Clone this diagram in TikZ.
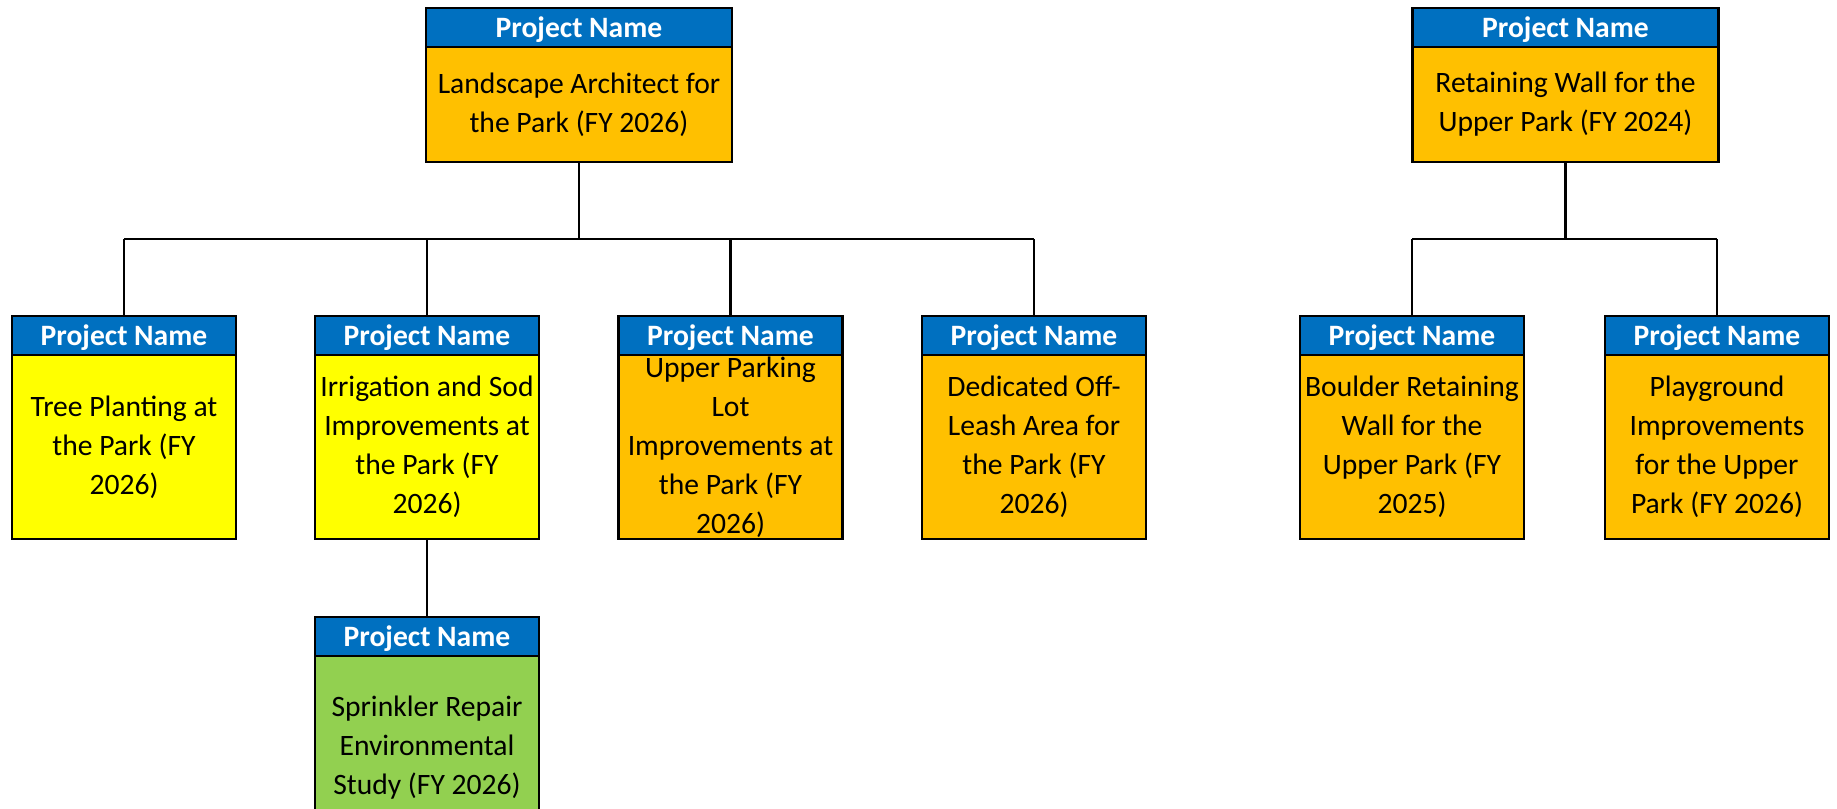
\documentclass[tikz,border=0pt]{standalone}
\usepackage{fontspec}
\setmainfont{Carlito}
\usepackage{tikz}
\usetikzlibrary{positioning}
\usepackage{xcolor}
\definecolor{headblue}{HTML}{0070C0}
\definecolor{parkorange}{HTML}{FFC000}
\definecolor{parkyellow}{HTML}{FFFF00}
\definecolor{parkgreen}{HTML}{92D050}
\newcommand{\parkfont}{\fontsize{22.2pt}{29.25pt}\selectfont}
\newcommand{\boxtext}[3]{\parbox[c][#1][c]{#2}{\centering #3}}

\begin{document}
\begin{tikzpicture}[x=0.75pt,y=-0.75pt,
    font=\parkfont,
    head/.style={draw, line width=1.6pt, fill=headblue, text=white, font=\parkfont\bfseries,
      minimum height=29.25pt, text depth=0pt, inner sep=0pt, outer sep=0pt},
    body/.style={draw, line width=1.6pt, inner sep=0pt, outer sep=0pt},
    wide/.style={minimum width=229.5pt},
    narrow/.style={minimum width=168pt},
    link/.style={line width=1.6pt}]
  \useasboundingbox (0,0) rectangle (1837,809);

  % Top boxes
  \node[head, wide] (lahead) at (579,27.5) {Project Name};
  \node[body, wide, fill=parkorange, below=0pt of lahead] (la)
    {\boxtext{86.25pt}{228pt}{Landscape Architect for\\the Park (FY 2026)}};
  \node[head, wide] (rwhead) at (1565.5,27.5) {Project Name};
  \node[body, wide, fill=parkorange, below=0pt of rwhead] (rw)
    {\boxtext{86.25pt}{228pt}{Retaining Wall for the\\Upper Park (FY 2024)}};

  % Second row
  \node[head, narrow] (tphead) at (124,335.5) {Project Name};
  \node[body, narrow, fill=parkyellow, below=0pt of tphead] (tp)
    {\boxtext{138pt}{167pt}{Tree Planting at\\the Park (FY\\2026)}};
  \node[head, narrow] (irrhead) at (427,335.5) {Project Name};
  \node[body, narrow, fill=parkyellow, below=0pt of irrhead] (irr)
    {\boxtext{138pt}{167pt}{Irrigation and Sod\\Improvements at\\the Park (FY\\2026)}};
  \node[head, narrow] (uplhead) at (730.5,335.5) {Project Name};
  \node[body, narrow, fill=parkorange, below=0pt of uplhead] (upl)
    {\boxtext{138pt}{167pt}{Upper Parking\\Lot\\Improvements at\\the Park (FY\\2026)}};
  \node[head, narrow] (dolhead) at (1034,335.5) {Project Name};
  \node[body, narrow, fill=parkorange, below=0pt of dolhead] (dol)
    {\boxtext{138pt}{167pt}{Dedicated Off-\\Leash Area for\\the Park (FY\\2026)}};
  \node[head, narrow] (brwhead) at (1412,335.5) {Project Name};
  \node[body, narrow, fill=parkorange, below=0pt of brwhead] (brw)
    {\boxtext{138pt}{167pt}{Boulder Retaining\\Wall for the\\Upper Park (FY\\2025)}};
  \node[head, narrow] (pghead) at (1717,335.5) {Project Name};
  \node[body, narrow, fill=parkorange, below=0pt of pghead] (pg)
    {\boxtext{138pt}{167pt}{Playground\\Improvements\\for the Upper\\Park (FY 2026)}};

  % Third row
  \node[head, narrow] (sprhead) at (427,636.5) {Project Name};
  \node[body, narrow, fill=parkgreen, below=0pt of sprhead] (spr)
    {\boxtext{138pt}{167pt}{Sprinkler Repair\\Environmental\\Study (FY 2026)}};

  % Connectors
  \coordinate (bus) at (0,239);
  \draw[link] (la.south) -- (la.south |- bus);
  \draw[link] (tphead.north |- bus) -- (dolhead.north |- bus);
  \foreach \n in {tphead,irrhead,uplhead,dolhead}
    \draw[link] (\n.north) -- (\n.north |- bus);
  \draw[link] (rw.south) -- (rw.south |- bus);
  \draw[link] (brwhead.north |- bus) -- (pghead.north |- bus);
  \foreach \n in {brwhead,pghead}
    \draw[link] (\n.north) -- (\n.north |- bus);
  \draw[link] (irr.south) -- (sprhead.north);
\end{tikzpicture}
\end{document}
